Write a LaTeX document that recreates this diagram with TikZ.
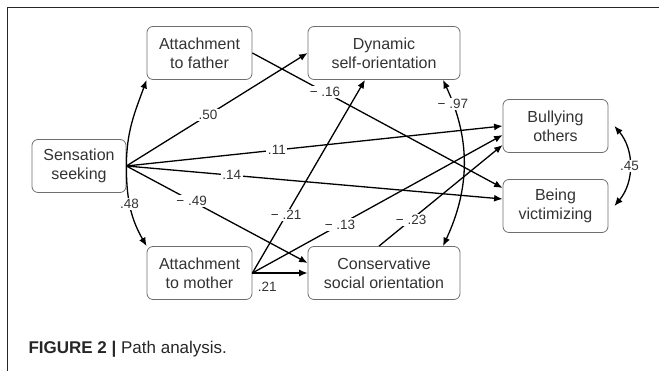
\documentclass[tikz,border=0pt]{standalone}
\usepackage{fontspec}
\setmainfont{Liberation Sans}
\usetikzlibrary{arrows.meta}
\definecolor{boxgray}{HTML}{6E6E6E}
\definecolor{txtgray}{HTML}{333333}

\begin{document}
\begin{tikzpicture}[
	x=1pt, y=1pt,
	var/.style={draw=boxgray, line width=0.8pt, rounded corners=6pt,
	minimum height=53pt, inner sep=0pt, align=center, text=txtgray,
	font=\fontsize{16}{19}\selectfont},
	svar/.style={var, minimum width=94pt},
	mvar/.style={var, minimum width=105pt},
	wvar/.style={var, minimum width=152pt},
	eff/.style={line width=1.3pt, -{Latex[length=8.5pt,width=7pt]}},
	cov/.style={line width=1.3pt,
	{Latex[length=8.5pt,width=7pt]}-{Latex[length=8.5pt,width=7pt]}},
	coef/.style={font=\fontsize{13.5}{13.5}\selectfont, text=txtgray,
	fill=white, inner sep=1.5pt}
]
	\useasboundingbox (0,0) rectangle (659,371);

	% 各行 y 坐标
	\def\ytop{318}
	\def\ybot{98}

	% 外框
	\draw[line width=0.9pt, black!85] (7,0) -- (7,364) -- (659,364);

	% 变量
	\node[svar] (ss)  at (79,205)     {Sensation\\seeking};
	\node[mvar] (af)  at (199.5,\ytop) {Attachment\\to father};
	\node[wvar] (dso) at (384,\ytop)   {Dynamic\\self-orientation};
	\node[mvar] (am)  at (199.5,\ybot) {Attachment\\to mother};
	\node[wvar] (cso) at (384,\ybot)   {Conservative\\social orientation};
	\node[mvar] (bo)  at (555.5,245)   {Bullying\\others};
	\node[mvar] (bv)  at (555.5,165)   {Being\\victimizing};

	% 感觉寻求的路径
	\draw[eff] (ss.east) to[out=90, in=-110] (af.south west);
	\draw[eff] (ss.east) to[out=-90, in=120] node[coef, pos=0.45] {.48} (am.north west);
	\draw[eff] (ss.east) -- node[coef, pos=0.45] {.50} (dso.west);
	\draw[eff] (ss.east) -- node[coef, pos=0.4] {.11} (bo.west);
	\draw[eff] (ss.east) -- node[coef, pos=0.28] {.14} ([yshift=7pt]bv.west);
	\draw[eff] (ss.east) -- node[coef, pos=0.36] {− .49} ([yshift=10pt]cso.west);

	% 依恋的路径
	\draw[eff] (af.east) -- node[coef, pos=0.29] {− .16} ([yshift=18pt]bv.west);
	\draw[eff] (am.east) -- node[coef, fill=none, pos=0.27, yshift=-14pt] {.21} (cso.west);
	\draw[eff] (am.east) -- node[coef, pos=0.3] {− .21} ([xshift=-19pt]dso.south);
	\draw[eff] (am.east) -- node[coef, pos=0.35] {− .13} ([yshift=-9pt]bo.west);
	\draw[eff] ([xshift=-5pt]cso.north) -- node[coef, pos=0.26] {− .23} ([yshift=-19pt]bo.west);

	% 相关
	\draw[cov] ([xshift=59pt]dso.south) to[out=-65, in=65]
		node[coef, pos=0.14] {− .97} ([xshift=59pt]cso.north);
	\draw[cov] ([xshift=6pt]bo.east) to[out=-50, in=50]
		node[coef, pos=0.5] {.45} ([xshift=6pt]bv.east);

	% 图题
	\node[anchor=base west, font=\fontsize{17}{17}\selectfont, text=black!85] (cap) at (25,17)
		{\textbf{FIGURE 2 |} Path analysis.};
\end{tikzpicture}
\end{document}
